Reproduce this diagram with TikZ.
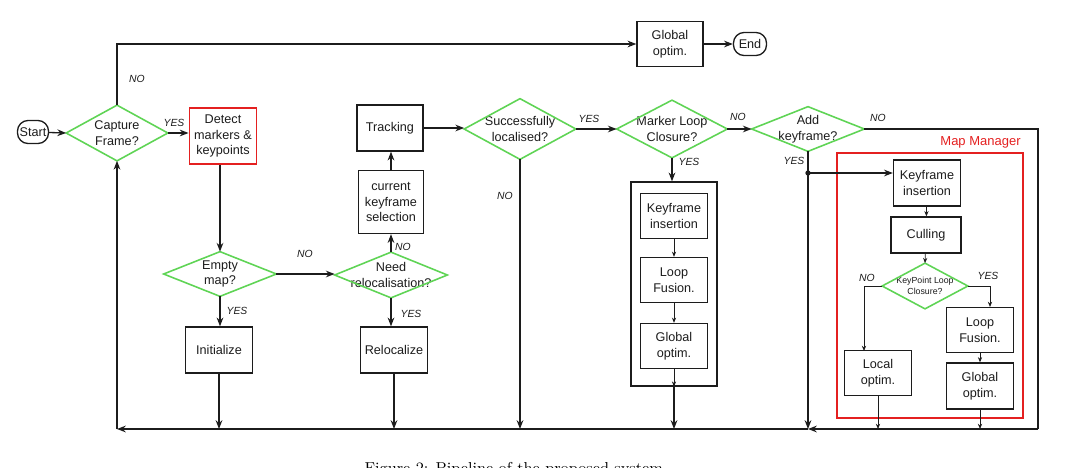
\documentclass[tikz,border=0pt]{standalone}
\usepackage{fontspec}
\newfontfamily\helv{Liberation Sans}
\usetikzlibrary{arrows.meta}
\definecolor{dgreen}{RGB}{95,212,85}
\definecolor{dred}{RGB}{228,32,32}
\definecolor{ink}{RGB}{28,28,28}
\begin{document}
\begin{tikzpicture}[x=0.02cm,y=-0.02cm,
  sz/.style 2 args={minimum width=#1*0.02cm, minimum height=#2*0.02cm},
  txt/.style={font=\helv\fontsize{7.2}{9}\selectfont, text=ink},
  box/.style={txt, draw=ink, line width=0.75pt, inner sep=0pt, align=center},
  term/.style={box, rounded corners=6pt},
  dia/.style={txt, rectangle, inner sep=0pt, align=center},
  diaedge/.style={draw=dgreen, line width=0.9pt, line join=miter},
  lbl/.style={font=\helv\itshape\fontsize{5.9}{7}\selectfont, text=ink, inner sep=0pt},
  arr/.style={draw=ink, line width=0.75pt, -{Stealth[length=5pt,width=3.8pt]}},
  plain/.style={draw=ink, line width=0.75pt},
  thin/.style={draw=ink, line width=0.4pt, -{Stealth[length=3pt,width=2.4pt]}}
]
\path[use as bounding box] (0,0) rectangle (1069,467);
\clip (0,0) rectangle (1069,467);

% nodes
\node[term, sz={31}{23}] (start) at (33,132) {Start};
\node[dia, sz={101}{55}] (cap) at (117,133) {Capture\\Frame?};
\node[box, draw=dred, line width=1.1pt, sz={67}{56}] (detect) at (223,136) {Detect\\markers \&\\keypoints};
\node[box, sz={66}{45}] (gopt) at (670,44) {Global\\optim.};
\node[term, sz={33}{23}] (endn) at (750,44) {End};
\node[box, sz={66}{46}] (track) at (390,128) {Tracking};
\node[box, sz={65}{63}] (ckf) at (391,202) {current\\keyframe\\selection};
\node[dia, sz={111}{60}] (succ) at (520,129) {Successfully\\localised?};
\node[dia, sz={110}{57}] (mlc) at (672,129) {Marker Loop\\Closure?};
\node[dia, sz={112}{44}] (addk) at (808,129) {Add\\keyframe?};
\node[dia, sz={112}{44}] (empty) at (220,274) {Empty\\map?};
\node[dia, sz={112}{45}] (need) at (391,275) {Need\\relocalisation?};
\node[box, sz={67}{46}] (init) at (219,350) {Initialize};
\node[box, sz={67}{46}] (reloc) at (394,350) {Relocalize};
\node[box, sz={86}{204}] (grp) at (674,284) {};
\node[box, sz={67}{45}] (kfi1) at (674,216) {Keyframe\\insertion};
\node[box, sz={67}{45}] (lf1) at (674,280) {Loop\\Fusion.};
\node[box, sz={67}{45}] (go1) at (674,346) {Global\\optim.};
\node[draw=dred, line width=1.3pt, inner sep=0pt, sz={186}{265}] (mm) at (930,285.5) {};
\node[txt, font=\helv\fontsize{7.4}{9}\selectfont, text=dred, anchor=east, inner sep=0pt] (mmlbl) at (1021,142) {Map Manager};
\node[box, sz={67}{46}] (kfi2) at (927,183) {Keyframe\\insertion};
\node[box, sz={70}{36}] (cull) at (926,235) {Culling};
\node[dia, sz={85}{45}, font=\helv\fontsize{5}{6.5}\selectfont] (kpl) at (925,286) {KeyPoint Loop\\Closure?};
\node[box, sz={67}{45}] (lopt) at (878,373) {Local\\optim.};
\node[box, sz={67}{45}] (lf2) at (980,330) {Loop\\Fusion.};
\node[box, sz={67}{46}] (go2) at (980,386) {Global\\optim.};

% diamonds
\foreach \n in {cap,succ,mlc,addk,empty,need,kpl}
  \draw[diaedge] (\n.north) -- (\n.east) -- (\n.south) -- (\n.west) -- cycle;

% helper coordinates
\coordinate (rc) at (1038,429);
\coordinate (j) at (808,429);
\coordinate (lc) at (117,429);
\coordinate (dot) at (808,173);
\coordinate (kn) at (864,351);
\coordinate (ky) at (990,307);

% connectors
\draw[arr] (start) -- (cap.west);
\draw[arr] (cap.east) -- (cap.east -| detect.west);
\draw[arr] (cap.north) |- (gopt.west);
\draw[arr] (gopt.east) -- (endn.west);
\draw[arr] (empty.north |- detect.south) -- (empty.north);
\draw[arr] (empty.east) -- (empty.east -| need.west);
\draw[arr] (empty.south) -- (empty.south |- init.north);
\draw[arr] (need.south) -- (need.south |- reloc.north);
\draw[arr] (need.north) -- (need.north |- ckf.south);
\draw[arr] (ckf.north -| need.north) -- (need.north |- track.south);
\draw[arr] (track.east) -- (track.east -| succ.west);
\draw[arr] (succ.east) -- (mlc.west);
\draw[arr] (mlc.east) -- (addk.west);
\draw[arr] (mlc.south) -- (mlc.south |- grp.north);
\draw[thin] (kfi1) -- (lf1);
\draw[thin] (lf1) -- (go1);
\draw[thin] (go1) -- (grp.south -| go1.south);

\draw[plain] (addk.east) -- (addk.east -| rc) -- (rc);
\draw[arr] (rc) -- (j);
\draw[arr] (addk.south) -- (j);
\fill[ink] (dot) circle (1.5pt);
\draw[arr] (dot) -- (dot -| kfi2.west);
\draw[thin] (kfi2) -- (cull);
\draw[thin] (cull) -- (kpl.north);
\draw[thin] (kpl.west) -| (kn);
\draw[thin] (kpl.east) -| (ky);
\draw[thin] (lf2) -- (go2);
\draw[thin] (lopt.south) -- (lopt.south |- rc);
\draw[thin] (go2.south) -- (go2.south |- rc);

\draw[arr] (j) -- (lc);
\draw[arr] (lc) -- (cap.south);
\draw[arr] (init.south) -- (init.south |- lc);
\draw[arr] (reloc.south) -- (reloc.south |- lc);
\draw[arr] (succ.south) -- (succ.south |- lc);
\draw[arr] (grp.south) -- (grp.south |- lc);

% labels
\node[lbl] (l1) at (137,79) {NO};
\node[lbl] (l2) at (174,123) {YES};
\node[lbl] (l3) at (305,254) {NO};
\node[lbl] (l4) at (237,311) {YES};
\node[lbl] (l5) at (411,314) {YES};
\node[lbl] (l6) at (403,247) {NO};
\node[lbl] (l7) at (589,119) {YES};
\node[lbl] (l8) at (505,196) {NO};
\node[lbl] (l9) at (738,117) {NO};
\node[lbl] (l10) at (689,162) {YES};
\node[lbl] (l11) at (878,118) {NO};
\node[lbl] (l12) at (794,161) {YES};
\node[lbl] (l13) at (867,278) {NO};
\node[lbl] (l14) at (988,276) {YES};

% caption (cut off at the bottom edge, as in the reference)
\node[anchor=base, font=\rmfamily\fontsize{9}{11}\selectfont, inner sep=0pt] (capt) at (516,473) {Figure 2: Pipeline of the proposed system.};
\end{tikzpicture}
\end{document}
